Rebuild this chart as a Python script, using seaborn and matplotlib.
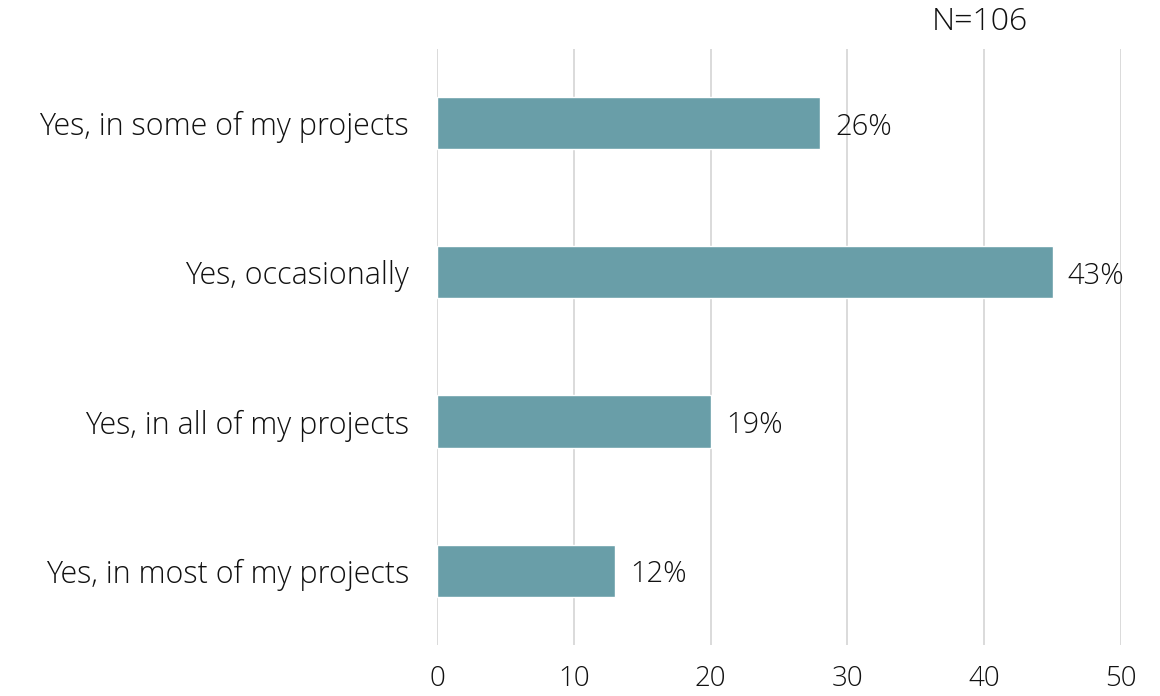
import matplotlib
matplotlib.use("Agg")
import matplotlib.pyplot as plt
import seaborn as sns
import pandas as pd

# values
answers = ["Yes, in some of my projects", "Yes, occasionally",
           "Yes, in all of my projects", "Yes, in most of my projects"]
counts = [28, 45, 20, 13]
pct_labels = ["26%", "43%", "19%", "12%"]
n_total = "N=106"
xticks = [0, 10, 20, 30, 40, 50]

df = pd.DataFrame({"answer": answers, "count": counts})

sns.set_theme(style="white")
plt.rcParams["font.family"] = ["Open Sans", "DejaVu Sans"]
plt.rcParams["font.weight"] = "light"

fig = plt.figure(figsize=(11.6, 6.96), dpi=100)
ax = fig.add_axes([0.3767, 0.073, 0.5897, 0.857])

sns.barplot(data=df, y="answer", x="count", orient="h", color="#699EA8",
            saturation=1, width=0.35, ax=ax, zorder=3)

ax.set_xlim(0, 50)
ax.set_xticks(xticks)
ax.xaxis.grid(True, color="#dadada", linewidth=1.4, zorder=0)
ax.set_axisbelow(True)
for s in ax.spines.values():
    s.set_visible(False)
ax.tick_params(axis="both", length=0, colors="#111111")
ax.tick_params(axis="y", pad=20, labelsize=22)
ax.tick_params(axis="x", pad=14, labelsize=20)
ax.set_xlabel("")
ax.set_ylabel("")

for i, (c, lab) in enumerate(zip(counts, pct_labels)):
    ax.annotate(lab, xy=(c, i), xytext=(11, 0), textcoords="offset points",
                va="center_baseline", ha="left", fontsize=21, color="#111111")

fig.text(980 / 1160, 1 - 22 / 696, n_total, ha="center", va="center",
         fontsize=23, color="#111111")

fig.savefig("out.png", dpi=100)
